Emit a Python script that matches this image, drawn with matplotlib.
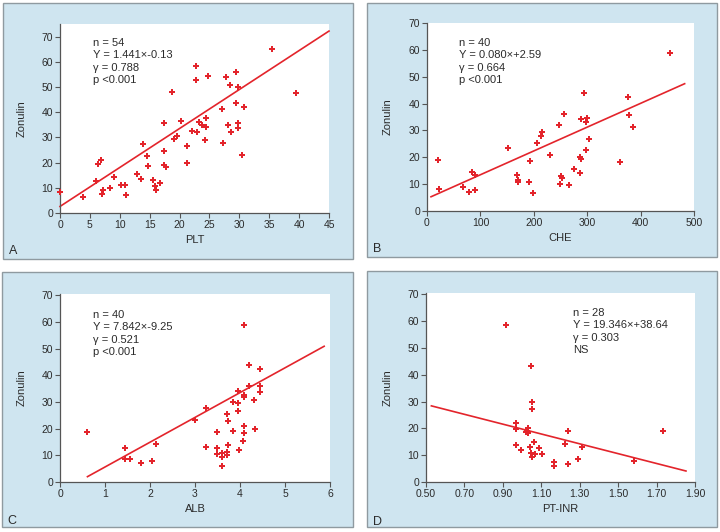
import matplotlib
matplotlib.use("Agg")
import matplotlib.pyplot as plt
from matplotlib.patches import Rectangle

plt.rcParams['font.family'] = ['Liberation Sans', 'DejaVu Sans']

# ---------------- data ----------------
plt_x = [0, 3.8, 6.0, 6.4, 6.8, 7.1, 7.2, 8.4, 9.1, 10.2, 10.9, 11.1, 12.9, 13.5, 13.9,
         14.5, 14.8, 15.5, 15.9, 16.0, 17.4, 17.4, 17.4, 17.7, 16.8, 18.7, 19.0, 19.5,
         20.2, 21.3, 21.3, 22.1, 22.7, 22.8, 22.9, 23.2, 23.7, 24.2, 24.5, 24.5, 24.7,
         27.1, 27.3, 27.7, 28.1, 28.4, 28.6, 29.5, 29.5, 29.7, 29.7, 29.8, 30.4, 30.8,
         35.5, 39.5]
plt_y = [8.2, 6.3, 12.8, 19.4, 21.0, 7.7, 9.1, 9.9, 14.4, 11.0, 11.1, 7.1, 15.6, 13.5, 27.5,
         22.6, 18.5, 13.1, 10.6, 9.2, 24.8, 35.9, 19.0, 18.2, 11.9, 47.9, 29.2, 30.6,
         36.7, 26.5, 19.7, 32.5, 58.4, 52.7, 32.0, 36.3, 35.1, 28.9, 34.2, 37.8, 54.5,
         41.3, 27.7, 54.0, 34.9, 50.9, 32.2, 55.9, 43.6, 35.9, 49.9, 33.7, 23.2, 42.0,
         65.1, 47.6]
plt_line_x = [0, 45]
plt_line_y = [2.6, 72.2]

che_x = [20, 23, 67, 79, 84, 90, 89, 151, 168, 171, 171, 191, 193, 198, 206, 214, 215,
         231, 248, 249, 251, 252, 257, 266, 276, 286, 287, 288, 289, 294, 297, 297, 300,
         303, 362, 377, 378, 385, 455]
che_y = [19.1, 8.3, 9.0, 7.2, 14.5, 13.3, 7.8, 23.4, 13.4, 11.4, 10.8, 10.7, 18.8, 6.6,
         25.2, 27.9, 29.5, 21.0, 32.2, 10.2, 12.9, 12.3, 36.2, 9.6, 15.8, 14.3, 20.0, 19.3,
         34.2, 44.0, 22.6, 33.2, 34.7, 26.7, 18.4, 42.6, 35.9, 31.1, 58.8]
che_line_x = [7.5, 482.5]
che_line_y = [5.3, 47.4]

alb_x = [0.59, 1.44, 1.45, 1.56, 1.79, 2.05, 2.14, 2.99, 3.24, 3.24, 3.48, 3.49, 3.48,
         3.59, 3.60, 3.60, 3.71, 3.71, 3.70, 3.73, 3.73, 3.84, 3.85, 3.95, 3.96, 3.96,
         3.97, 4.06, 4.08, 4.08, 4.09, 4.10, 4.10, 4.20, 4.20, 4.32, 4.33, 4.44, 4.44, 4.44]
alb_y = [18.9, 12.6, 8.5, 8.7, 7.1, 7.7, 14.3, 23.4, 27.7, 13.1, 12.9, 18.8, 10.4,
         10.7, 9.3, 6.0, 10.2, 11.1, 25.4, 22.8, 13.8, 30.1, 19.3, 26.5, 29.6, 34.1,
         11.9, 15.3, 58.7, 18.5, 32.7, 32.0, 20.9, 44.0, 36.1, 30.7, 19.9, 42.4, 36.1, 33.9]
alb_line_x = [0.61, 5.87]
alb_line_y = [2.0, 50.9]

inr_x = [0.914, 0.969, 0.969, 0.969, 0.992, 1.030, 1.025, 1.033, 1.020, 1.042, 1.063,
         1.044, 1.065, 1.054, 1.049, 1.051, 1.052, 1.087, 1.105, 1.165, 1.165, 1.226,
         1.241, 1.240, 1.292, 1.314, 1.583, 1.732]
inr_y = [58.5, 22.0, 19.7, 13.7, 11.8, 20.3, 18.9, 18.3, 18.5, 13.1, 15.1,
         11.0, 10.6, 9.4, 43.4, 29.8, 27.3, 12.6, 10.6, 7.5, 6.0, 14.2,
         18.9, 6.9, 8.7, 13.1, 7.8, 19.0]
inr_line_x = [0.528, 1.853]
inr_line_y = [28.4, 4.1]

ann_A = ["n = 54", "Y = 1.441×-0.13", "γ = 0.788", "p <0.001"]
ann_B = ["n = 40", "Y = 0.080×+2.59", "γ = 0.664", "p <0.001"]
ann_C = ["n = 40", "Y = 7.842×-9.25", "γ = 0.521", "p <0.001"]
ann_D = ["n = 28", "Y = 19.346×+38.64", "γ = 0.303", "NS"]

# ---------------- figure ----------------
W, H = 720, 532
fig = plt.figure(figsize=(W / 100, H / 100), dpi=100)
fig.patch.set_facecolor('white')

BOX_FC = '#cfe5f0'
BOX_EC = '#8f9aa0'
TXT = '#2b2b2b'
SPINE = '#555555'
RED = '#e3242b'


def px_rect(x0, y0, x1, y1):
    """pixel box (top-left origin) -> figure fraction [l, b, w, h]"""
    return [x0 / W, 1 - y1 / H, (x1 - x0) / W, (y1 - y0) / H]


# panel background boxes
for (x0, y0, x1, y1) in [(3, 3, 353, 259), (367, 3, 717, 257),
                         (2, 272, 353, 527), (367, 271, 717, 527)]:
    l, b, w, h = px_rect(x0, y0, x1, y1)
    fig.patches.append(Rectangle((l, b), w, h, transform=fig.transFigure,
                                 facecolor=BOX_FC, edgecolor=BOX_EC, lw=1.0, zorder=-10))


def make_panel(rect, xs, ys, lx, ly, xlim, ylim, xticks, xticklabels, yticks,
               xlabel, ann, ann_xy, letter, letter_px, ylab_x):
    ax = fig.add_axes(px_rect(*rect))
    ax.set_facecolor('white')
    ax.set_xlim(*xlim)
    ax.set_ylim(*ylim)
    ax.set_xticks(xticks)
    ax.set_xticklabels(xticklabels)
    ax.set_yticks(yticks)
    for s in ['top', 'right']:
        ax.spines[s].set_visible(False)
    for s in ['left', 'bottom']:
        ax.spines[s].set_color(SPINE)
        ax.spines[s].set_linewidth(0.9)
    ax.tick_params(direction='out', length=3.5, width=0.8, color=SPINE,
                   labelsize=7.5, labelcolor=TXT, pad=1.5)
    ax.plot(lx, ly, color=RED, lw=1.2, zorder=2, clip_on=False)
    ax.plot(xs, ys, linestyle='none', marker='P', markersize=5.0,
            color=RED, markeredgewidth=0, zorder=3, clip_on=False)
    ax.set_xlabel(xlabel, fontsize=8, color=TXT)
    ax.set_ylabel('Zonulin', fontsize=8, color=TXT)
    ax.xaxis.set_label_coords(0.5, -0.115)
    ax.yaxis.set_label_coords(ylab_x, 0.5)
    ax.text(ann_xy[0], ann_xy[1], "\n".join(ann), fontsize=8, color=TXT,
            va='top', ha='left', linespacing=1.3)
    fig.text(letter_px[0] / W, 1 - letter_px[1] / H, letter, fontsize=9,
             color=TXT, ha='center', va='center')
    return ax


make_panel((60, 24, 329, 213), plt_x, plt_y, plt_line_x, plt_line_y,
           (0, 45), (0, 75), list(range(0, 46, 5)), [str(v) for v in range(0, 46, 5)],
           list(range(0, 71, 10)), 'PLT', ann_A, (5.5, 69.5), 'A', (13, 251), -0.125)

make_panel((427, 23, 694, 211), che_x, che_y, che_line_x, che_line_y,
           (0, 500), (0, 70), list(range(0, 501, 100)), [str(v) for v in range(0, 501, 100)],
           list(range(0, 71, 10)), 'CHE', ann_B, (60, 64.5), 'B', (377, 249), -0.128)

make_panel((60, 294, 330, 482), alb_x, alb_y, alb_line_x, alb_line_y,
           (0, 6), (0, 70.5), list(range(0, 7)), [str(v) for v in range(0, 7)],
           list(range(0, 71, 10)), 'ALB', ann_C, (0.73, 64.5), 'C', (12, 521), -0.125)

inr_ticks = [0.5, 0.7, 0.9, 1.1, 1.3, 1.5, 1.7, 1.9]
make_panel((426, 293, 695, 482), inr_x, inr_y, inr_line_x, inr_line_y,
           (0.5, 1.9), (0, 70.5), inr_ticks, ['%.2f' % v for v in inr_ticks],
           list(range(0, 71, 10)), 'PT-INR', ann_D, (1.265, 65), 'D', (378, 522), -0.125)

fig.savefig('out.png', dpi=100)
